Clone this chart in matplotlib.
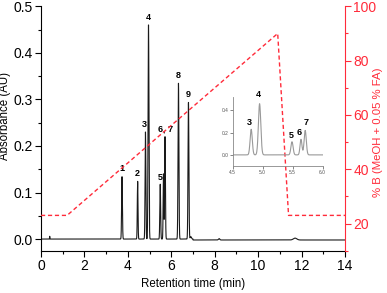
import numpy as np
import matplotlib
matplotlib.use("Agg")
import matplotlib.pyplot as plt
from matplotlib.ticker import MultipleLocator, FormatStrFormatter

plt.rcParams['font.family'] = ['Liberation Sans', 'DejaVu Sans']

# peak table (min, AU)
peak_t = [0.40, 3.73, 4.45, 4.81, 4.95, 5.49, 5.64, 5.71, 6.33, 6.79, 6.90, 8.20, 11.70]
peak_h = [0.006, 0.134, 0.124, 0.230, 0.460, 0.118, 0.140, 0.220, 0.335, 0.294, 0.005, 0.003, 0.004]
peak_w = [0.006, 0.018, 0.016, 0.018, 0.020, 0.018, 0.016, 0.018, 0.020, 0.020, 0.03, 0.03, 0.08]

# peak numbers and where they sit
lab_txt = ['1', '2', '3', '4', '5', '6, 7', '8', '9']
lab_x = [3.71, 4.41, 4.74, 4.93, 5.47, 5.73, 6.32, 6.80]
lab_y = [0.141, 0.131, 0.236, 0.466, 0.123, 0.226, 0.341, 0.300]

inset_txt = ['3', '4', '5', '6', '7']
inset_x = [4.78, 4.93, 5.47, 5.61, 5.72]
inset_y = [0.25, 0.50, 0.13, 0.16, 0.25]

# gradient program (% B)
grad_t = [0, 1.2, 10.9, 11.4, 14]
grad_b = [23, 23, 90, 23, 23]

t = np.linspace(0, 14, 6000)
sig = np.zeros_like(t)
for c, h, w in zip(peak_t, peak_h, peak_w):
    sig += h * np.exp(-0.5 * ((t - c) / w) ** 2)
sig[t > 7] -= 0.002

red = '#ff2b3a'

fig = plt.figure(figsize=(3.87, 2.93), dpi=100)
ax = fig.add_axes([0.106, 0.1444, 0.7855, 0.834])
ax.plot(t, sig, color='#1a1a1a', lw=0.8)
for s, x, y in zip(lab_txt, lab_x, lab_y):
    ax.text(x, y, s, fontsize=6.5, fontweight='bold', ha='center', va='bottom')

ax.set_xlim(0, 14)
ax.set_ylim(-0.025, 0.5)
ax.xaxis.set_major_locator(MultipleLocator(2))
ax.xaxis.set_minor_locator(MultipleLocator(1))
ax.yaxis.set_major_locator(MultipleLocator(0.1))
ax.yaxis.set_minor_locator(MultipleLocator(0.05))
ax.yaxis.set_major_formatter(FormatStrFormatter('%.1f'))
ax.tick_params(which='major', direction='out', length=4, width=0.8, labelsize=10, pad=2)
ax.tick_params(which='minor', direction='out', length=2, width=0.8)
ax.spines['top'].set_visible(False)
ax.spines['right'].set_visible(False)
ax.set_xlabel('Retention time (min)', fontsize=8.3)
ax.set_ylabel('Absorbance (AU)', fontsize=8.3)
ax.xaxis.set_label_coords(0.5, -0.112)
ax.yaxis.set_label_coords(-0.099, 0.551)

ax2 = ax.twinx()
ax2.plot(grad_t, grad_b, color=red, lw=1.0, ls=(0, (3, 2)))
ax2.set_ylim(10, 100)
ax2.yaxis.set_major_locator(MultipleLocator(20))
ax2.yaxis.set_minor_locator(MultipleLocator(10))
ax2.tick_params(which='major', direction='out', length=4, width=0.8, labelsize=10,
                colors=red, pad=2)
ax2.tick_params(which='minor', direction='out', length=2, width=0.8, colors=red)
for k in ['top', 'left', 'bottom']:
    ax2.spines[k].set_visible(False)
ax2.spines['right'].set_color(red)
ax2.set_ylabel('% B (MeOH + 0.05 % FA)', fontsize=8.2, color=red)
ax2.yaxis.set_label_coords(1.092, 0.486)

# zoomed inset of peaks 3-7
ins = fig.add_axes([0.601, 0.4334, 0.2326, 0.2355], facecolor='none')
m = (t >= 4.5) & (t <= 6.0)
ins.plot(t[m], sig[m], color='#999999', lw=0.8)
for s, x, y in zip(inset_txt, inset_x, inset_y):
    ins.text(x, y, s, fontsize=6.5, fontweight='bold', ha='center', va='bottom')
ins.set_xlim(4.5, 6.0)
ins.set_ylim(-0.1, 0.52)
ins.xaxis.set_major_locator(MultipleLocator(0.5))
ins.yaxis.set_major_locator(MultipleLocator(0.2))
ins.xaxis.set_major_formatter(FormatStrFormatter('%.1f'))
ins.yaxis.set_major_formatter(FormatStrFormatter('%.1f'))
ins.tick_params(direction='out', length=2, width=0.5, labelsize=3.5, pad=1,
                colors='#555555')
for k in ['top', 'right']:
    ins.spines[k].set_visible(False)
for k in ['left', 'bottom']:
    ins.spines[k].set_color('#888888')
    ins.spines[k].set_linewidth(0.6)

fig.savefig('out.png', dpi=100)
